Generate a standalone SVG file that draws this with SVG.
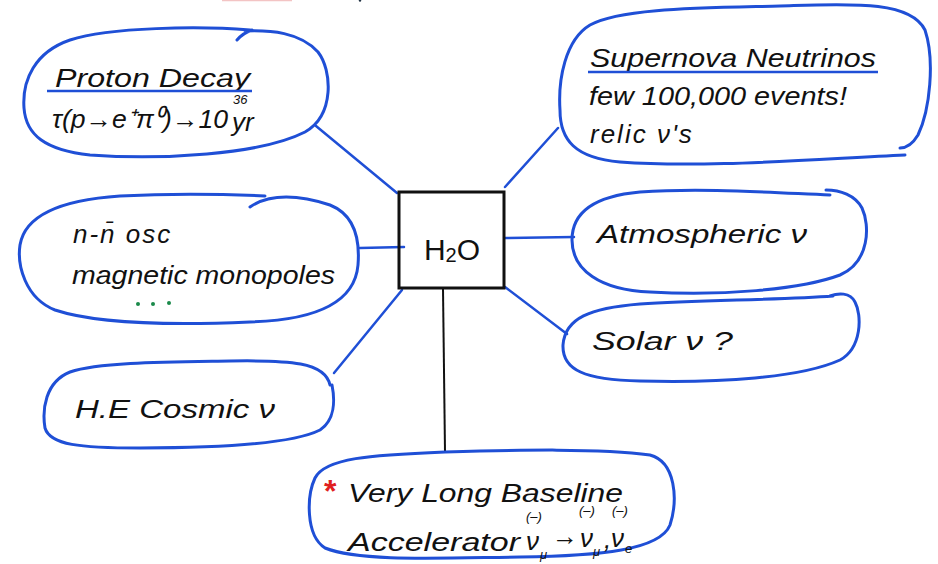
<svg xmlns="http://www.w3.org/2000/svg" width="938" height="564" viewBox="0 0 938 564">
<style>
.blob{fill:none;stroke:#1f4fd6;stroke-width:3;stroke-linecap:round;stroke-linejoin:round}
.con{fill:none;stroke:#1f4fd6;stroke-width:2.5;stroke-linecap:round}
.ul{stroke:#1f4fd6;stroke-width:2.5}
.t{font-family:"Liberation Sans",Arial,sans-serif;font-style:italic;font-size:26px;fill:#111}
.s{font-family:"Liberation Sans",Arial,sans-serif;font-style:italic;font-size:13px;fill:#111}
</style>
<rect width="938" height="564" fill="#fff"/>
<line x1="222" y1="0.5" x2="292" y2="0.5" stroke="#f3c4c4" stroke-width="1.5"/>
<circle cx="360" cy="0.5" r="1.2" fill="#234"/>
<g id="connectors">
<line class="con" x1="316" y1="126" x2="397" y2="193"/>
<line class="con" x1="505" y1="187" x2="558" y2="128"/>
<line class="con" x1="360" y1="248" x2="404" y2="247"/>
<line class="con" x1="505" y1="238" x2="574" y2="237"/>
<line class="con" x1="402" y1="290" x2="334" y2="373"/>
<line class="con" x1="505" y1="287" x2="567" y2="334"/>
<line x1="443" y1="289" x2="445" y2="452" stroke="#111" stroke-width="2"/>
</g>
<g id="h2o">
<rect x="399" y="192" width="105" height="96" fill="none" stroke="#111" stroke-width="3"/>
<text x="452" y="260" text-anchor="middle" font-family="Liberation Sans,Arial,sans-serif" font-size="30" fill="#111">H<tspan font-size="20" dy="2">2</tspan><tspan dy="-2">O</tspan></text>
</g>
<g id="proton-decay">
<path class="blob" d="M250,30 C200,26 110,27 70,40 C35,52 22,80 24,108 C26,135 45,150 90,155 C160,160 260,155 305,132 C335,115 332,70 318,52 C300,32 270,30 245,31 M237,40 Q243,33 252,30"/>
<text class="t" x="55" y="87" textLength="195" lengthAdjust="spacingAndGlyphs">Proton Decay</text>
<line class="ul" x1="47" y1="91" x2="252" y2="91"/>
<text class="t" x="52" y="128" textLength="176" lengthAdjust="spacingAndGlyphs">τ(p→e⁺π⁰)→10</text>
<text class="s" x="233" y="104">36</text>
<text class="t" x="232" y="131">yr</text>
</g>
<g id="supernova">
<path class="blob" d="M905,155 C800,160 700,168 620,162 C575,158 560,140 560,110 C558,80 565,40 590,25 C620,8 700,8 780,6 C850,4 910,0 925,30 C935,60 930,110 918,135 C912,145 905,148 900,148"/>
<text class="t" x="590" y="67" textLength="286" lengthAdjust="spacingAndGlyphs">Supernova Neutrinos</text>
<line class="ul" x1="588" y1="72" x2="878" y2="72"/>
<text class="t" x="589" y="105" textLength="258" lengthAdjust="spacingAndGlyphs">few 100,000 events!</text>
<text class="t" x="590" y="143" font-size="28" letter-spacing="2">relic ν's</text>
</g>
<g id="nn-osc">
<path class="blob" d="M250,207 C270,193 300,195 330,205 C355,215 360,240 358,265 C355,300 320,320 250,322 C180,325 100,325 55,310 C25,298 17,265 20,245 C25,215 60,200 120,196 C180,193 220,194 265,196"/>
<text class="t" x="73" y="243" font-size="30" letter-spacing="2">n-n̄ osc</text>
<text class="t" x="72" y="284" textLength="263" lengthAdjust="spacingAndGlyphs">magnetic monopoles</text>
<g fill="#1a8a4a"><circle cx="138" cy="304" r="2"/><circle cx="153" cy="304" r="2"/><circle cx="169" cy="303" r="2"/></g>
</g>
<g id="he-cosmic">
<path class="blob" d="M330,385 C325,362 290,360 230,361 C170,362 100,362 70,372 C45,382 42,410 45,428 C50,445 80,448 140,448 C210,448 290,445 320,430 C335,420 335,400 332,385"/>
<text class="t" x="75" y="418" textLength="200" lengthAdjust="spacingAndGlyphs">H.E Cosmic ν</text>
</g>
<g id="atmospheric">
<path class="blob" d="M830,195 C760,192 700,188 640,192 C595,196 572,212 572,240 C572,270 600,290 650,292 C720,296 800,290 840,275 C870,262 870,225 862,208 C855,195 840,190 826,190"/>
<text class="t" x="597" y="243" textLength="210" lengthAdjust="spacingAndGlyphs">Atmospheric ν</text>
</g>
<g id="solar">
<path class="blob" d="M833,296 C780,300 700,300 640,304 C590,308 565,318 563,345 C562,370 585,380 640,381 C720,383 800,378 840,360 C862,348 862,315 855,302 C850,292 838,293 830,296"/>
<text class="t" x="592" y="350" textLength="141" lengthAdjust="spacingAndGlyphs">Solar ν ?</text>
</g>
<g id="vlb">
<path class="blob" d="M445,452 C520,450 600,448 650,455 C676,462 678,500 670,525 C660,550 600,556 520,557 C440,558 360,562 325,548 C305,535 307,495 315,478 C325,458 370,455 445,452"/>
<text x="324" y="502" font-family="Liberation Sans,Arial,sans-serif" font-size="32" font-weight="bold" fill="#e02020">*</text>
<text class="t" x="348" y="502" textLength="275" lengthAdjust="spacingAndGlyphs">Very Long Baseline</text>
<text class="t" x="348" y="551" textLength="172" lengthAdjust="spacingAndGlyphs">Accelerator</text>
<text class="t" x="526" y="550">ν</text>
<text class="s" x="540" y="559">μ</text>
<text class="s" x="526" y="521">(–)</text>
<text class="t" x="552" y="545" font-size="17">→</text>
<text class="t" x="580" y="547">ν</text>
<text class="s" x="593" y="556">μ</text>
<text class="s" x="579" y="515">(–)</text>
<text class="t" x="604" y="548">,</text>
<text class="t" x="611" y="547">ν</text>
<text class="s" x="625" y="553">e</text>
<text class="s" x="612" y="515">(–)</text>
</g>
</svg>
